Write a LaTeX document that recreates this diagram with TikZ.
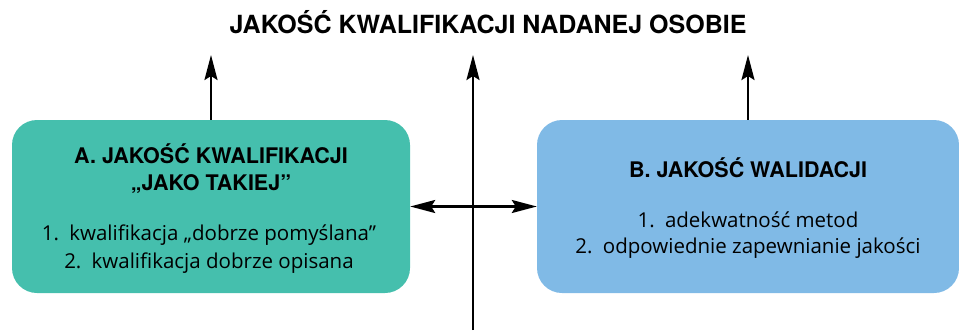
\documentclass[tikz,border=0pt]{standalone}
\usepackage{fontspec}
\setmainfont{Open Sans}
\newfontfamily\headfont{TeX Gyre Heros}
\usetikzlibrary{arrows.meta}
\definecolor{tealbox}{RGB}{69,191,173}
\definecolor{bluebox}{RGB}{128,186,230}
\tikzset{
  box/.style={rounded corners=25pt, minimum height=173pt, inner sep=0pt},
  arr/.style={line width=2.4pt},
  headtxt/.style={align=center, inner sep=0pt, font=\headfont\bfseries\fontsize{21.5}{27}\selectfont},
  listtxt/.style={align=center, inner sep=0pt, font=\fontsize{20.5}{28}\selectfont},
}
\begin{document}
\begin{tikzpicture}[x=1pt, y=-1pt, line join=round, >={Stealth[length=25pt,width=13pt,inset=4pt]}]
  \useasboundingbox (0,0) rectangle (959,330);
  \node[headtxt, font=\headfont\bfseries\fontsize{25}{30}\selectfont] (title) at (488,22) {JAKOŚĆ KWALIFIKACJI NADANEJ OSOBIE};
  \coordinate (top) at (473,55);
  \coordinate (bottom) at (473,330);
  % boxes
  \node[box, fill=tealbox, minimum width=398pt] (qual) at (211,206.5) {};
  \node[box, fill=bluebox, minimum width=422pt] (valid) at (748,206.5) {};
  % texts
  \node[headtxt] (qualhead) at (211,168.5) {A. JAKOŚĆ KWALIFIKACJI\\„JAKO TAKIEJ”};
  \node[listtxt] (quallist) at (209,249) {1.\enspace kwalifikacja „dobrze pomyślana”\\2.\enspace kwalifikacja dobrze opisana};
  \node[headtxt] (validhead) at (748,168) {B. JAKOŚĆ WALIDACJI};
  \node[listtxt, font=\fontsize{20.5}{26.5}\selectfont] (validlist) at (748,235) {1.\enspace adekwatność metod\\2.\enspace odpowiednie zapewnianie jakości};
  % arrows
  \draw[arr, ->] (bottom) -- (top);
  \draw[arr, ->] (qual.north) -- (qual.north |- top);
  \draw[arr, ->] (valid.north) -- (valid.north |- top);
  \draw[arr, <->] (qual.east) -- (valid.west);
\end{tikzpicture}
\end{document}
